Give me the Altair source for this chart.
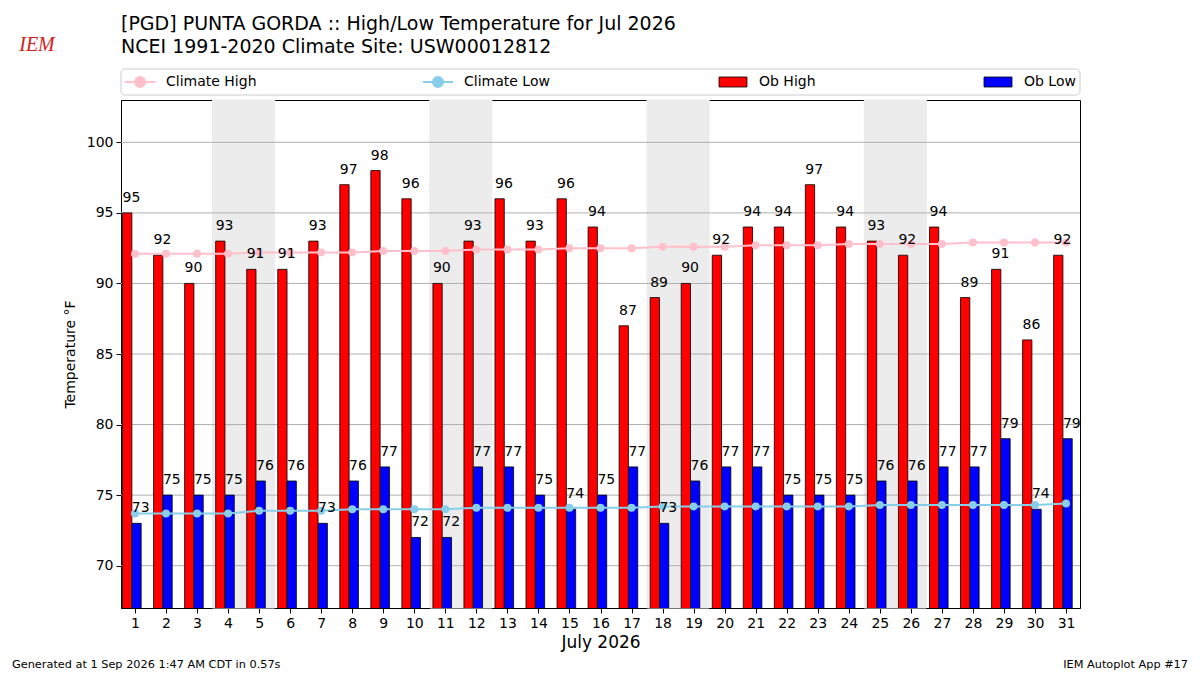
import altair as alt
import pandas as pd

# ---------------- data ----------------
days = list(range(1, 32))
ob_high = [95, 92, 90, 93, 91, 91, 93, 97, 98, 96, 90, 93, 96, 93, 96, 94,
           87, 89, 90, 92, 94, 94, 97, 94, 93, 92, 94, 89, 91, 86, 92]
ob_low = [73, 75, 75, 75, 76, 76, 73, 76, 77, 72, 72, 77, 77, 75, 74, 75,
          77, 73, 76, 77, 77, 75, 75, 75, 76, 76, 77, 77, 79, 74, 79]
clim_high = [92.1, 92.1, 92.1, 92.1, 92.2, 92.2, 92.2, 92.2, 92.3, 92.3, 92.3,
             92.4, 92.4, 92.4, 92.5, 92.5, 92.5, 92.6, 92.6, 92.6, 92.7, 92.7,
             92.7, 92.8, 92.8, 92.8, 92.8, 92.9, 92.9, 92.9, 92.9]
clim_low = [73.7, 73.7, 73.7, 73.7, 73.9, 73.9, 73.9, 74.0, 74.0, 74.0, 74.0,
            74.1, 74.1, 74.1, 74.1, 74.1, 74.1, 74.2, 74.2, 74.2, 74.2, 74.2,
            74.2, 74.2, 74.3, 74.3, 74.3, 74.3, 74.3, 74.3, 74.4]
weekend_days = [4, 5, 11, 12, 18, 19, 25, 26]
y_ticks = [70, 75, 80, 85, 90, 95, 100]
clim_series = ["Climate High", "Climate Low"]
clim_colors = ["pink", "skyblue"]
ob_series = ["Ob High", "Ob Low"]
ob_colors = ["red", "blue"]

title_lines = ["[PGD] PUNTA GORDA :: High/Low Temperature for Jul 2026",
               "NCEI 1991-2020 Climate Site: USW00012812"]
footer_left = "Generated at 1 Sep 2026 1:47 AM CDT in 0.57s"
footer_right = "IEM Autoplot App #17"

FONT = "DejaVu Sans"
FS = 14
W, H = 959, 508

clim_long = pd.concat([
    pd.DataFrame({"day": days, "value": clim_high, "series": clim_series[0]}),
    pd.DataFrame({"day": days, "value": clim_low, "series": clim_series[1]}),
], ignore_index=True)
ob_long = pd.concat([
    pd.DataFrame({"day": days, "value": ob_high, "series": ob_series[0], "off": -0.4}),
    pd.DataFrame({"day": days, "value": ob_low, "series": ob_series[1], "off": -0.1}),
], ignore_index=True)
wk = pd.DataFrame({"day": weekend_days})
grid_df = pd.DataFrame({"v": y_ticks})

xscale = alt.Scale(domain=[0.55, 31.45], nice=False, zero=False)
yscale = alt.Scale(domain=[67, 103], nice=False, zero=False)

xaxis = alt.Axis(values=days, title="July 2026", grid=False, labelFontSize=FS,
                 titleFontSize=17, titleFontWeight="normal", tickSize=5,
                 labelPadding=3, titlePadding=4, domainColor="black",
                 tickColor="black", labelColor="black", titleColor="black",
                 labelFont=FONT, titleFont=FONT, labelFlush=False, format="d")
yaxis = alt.Axis(values=y_ticks, title="Temperature °F", grid=False,
                 labelFontSize=FS, titleFontSize=FS, titleFontWeight="normal",
                 tickSize=5, labelPadding=3, titlePadding=9,
                 domainColor="black", tickColor="black", labelColor="black",
                 titleColor="black", labelFont=FONT, titleFont=FONT)


def X(f):
    return alt.X(f, scale=xscale, axis=xaxis)


def Y(f):
    return alt.Y(f, scale=yscale, axis=yaxis)


LINE_SYM = "M-3,0H3M-1,0A1,1 0 1,0 1,0A1,1 0 1,0 -1,0"
RECT_SYM = "M-2.8,-1H2.8V1H-2.8Z"


def clim_legend():
    return alt.Legend(title=None, orient="none", legendX=12, legendY=-25,
                      direction="horizontal", columns=2, columnPadding=162,
                      labelFontSize=FS, labelFont=FONT, labelColor="black",
                      symbolSize=100, labelOffset=19, symbolType=LINE_SYM,
                      symbolStrokeWidth=2, symbolOpacity=1)


ob_legend = alt.Legend(title=None, orient="none", legendX=605, legendY=-25,
                       direction="horizontal", columns=2, columnPadding=166,
                       labelFontSize=FS, labelFont=FONT, labelColor="black",
                       symbolSize=100, labelOffset=19, symbolType=RECT_SYM,
                       symbolStrokeWidth=0.8, symbolOpacity=1)

box = alt.Chart(pd.DataFrame({"b": [0]})).mark_rect(
    fill="white", stroke="#cccccc", strokeWidth=1, cornerRadius=4
).encode(x=alt.value(0), x2=alt.value(W), y=alt.value(-31), y2=alt.value(-5))

shade = alt.Chart(wk).transform_calculate(
    x0="datum.day - 0.5", x1="datum.day + 0.5"
).mark_rect(color="#ececec", stroke="#ececec", strokeWidth=1).encode(x=X("x0:Q"), x2="x1:Q")

grid = alt.Chart(grid_df).mark_rule(color="#b0b0b0", strokeWidth=1).encode(y=Y("v:Q"))

bars = alt.Chart(ob_long).transform_calculate(
    x0="datum.day + datum.off", x1="datum.day + datum.off + 0.3"
).mark_bar(stroke="black", strokeWidth=0.8, clip=True, opacity=1).encode(
    x=X("x0:Q"), x2="x1:Q", y=Y("value:Q"), y2=alt.datum(0),
    color=alt.Color("series:N", scale=alt.Scale(domain=ob_series, range=ob_colors),
                    legend=ob_legend))

lines = alt.Chart(clim_long).mark_line(strokeWidth=2).encode(
    x=X("day:Q"), y=Y("value:Q"),
    stroke=alt.Stroke("series:N", scale=alt.Scale(domain=clim_series, range=clim_colors),
                      legend=clim_legend()))

points = alt.Chart(clim_long).mark_circle(size=64, opacity=1).encode(
    x=X("day:Q"), y=Y("value:Q"),
    fill=alt.Fill("series:N", scale=alt.Scale(domain=clim_series, range=clim_colors),
                  legend=clim_legend()))

lab = alt.Chart(ob_long).transform_calculate(x0="datum.day + datum.off").mark_text(
    align="left", baseline="alphabetic", dy=-11, fontSize=FS, font=FONT, color="black"
).encode(x=X("x0:Q"), y=Y("value:Q"), text="value:Q")


def txt(s, x, y, align="left", size=19, font=FONT, **kw):
    return alt.Chart(pd.DataFrame({"t": [s]})).mark_text(
        align=align, baseline="middle", fontSize=size, font=font, **kw
    ).encode(x=alt.value(x), y=alt.value(y), text="t:N")


t1 = txt(title_lines[0], 0, -76, color="black")
t2 = txt(title_lines[1], 0, -53, color="black")
f1 = txt(footer_left, -109, 565, size=11.3, color="black")
f2 = txt(footer_right, 1067, 565, align="right", size=11.3, color="black")
logo = txt("IEM", -84, -55, align="center", size=20, font="Liberation Serif",
           fontStyle="italic", color="#d42020")

chart = alt.layer(
    box, shade, grid, bars, lines, points, lab, t1, t2, f1, f2, logo
).properties(
    width=W, height=H,
    autosize=alt.AutoSizeParams(type="none"),
    padding={"left": 113, "top": 92, "right": 112, "bottom": 67},
    background="white",
).configure_view(stroke="black", strokeWidth=1)

chart.save("out.html", embed_options={"renderer": "svg", "actions": False})
